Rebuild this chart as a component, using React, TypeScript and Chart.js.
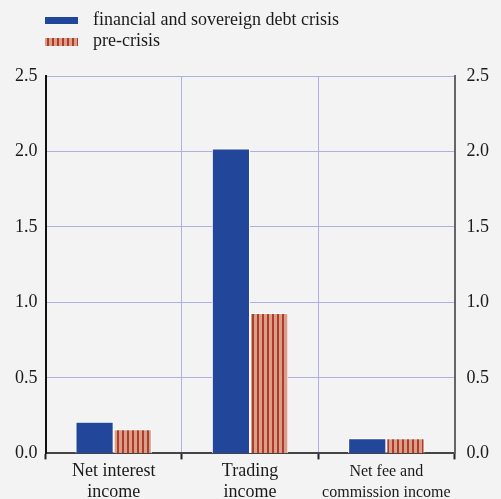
import React, { useEffect, useRef } from "react";
import { Chart, registerables } from "chart.js";
Chart.register(...registerables);

const categories: string[][] = [
  ["Net interest", "income"],
  ["Trading", "income"],
  ["Net fee and", "commission income"],
];
const crisisValues = [0.21, 2.02, 0.1];
const preCrisisValues = [0.16, 0.93, 0.1];
const seriesLabels = ["financial and sovereign debt crisis", "pre-crisis"];
const yTicks = [0, 0.5, 1.0, 1.5, 2.0, 2.5];

const BLUE = "#22479a";
const SALMON = "#d9a088";
const STRIPE = "#b23a2c";
const FONT = "'Liberation Serif', 'Times New Roman', serif";

function makePattern(): CanvasPattern | string {
  const c = document.createElement("canvas");
  c.width = 5;
  c.height = 4;
  const ctx = c.getContext("2d");
  if (!ctx) return SALMON;
  ctx.fillStyle = SALMON;
  ctx.fillRect(0, 0, 5, 4);
  ctx.fillStyle = STRIPE;
  ctx.fillRect(2, 0, 2, 4);
  return ctx.createPattern(c, "repeat") || SALMON;
}

export default function App() {
  const ref = useRef<HTMLCanvasElement>(null);
  useEffect(() => {
    if (!ref.current) return;
    const pattern = makePattern();
    const legendPlugin = {
      id: "customLegend",
      afterDraw(chart: any) {
        const ctx = chart.ctx;
        ctx.save();
        ctx.fillStyle = BLUE;
        ctx.fillRect(45, 17, 33, 7);
        ctx.fillStyle = pattern;
        ctx.fillRect(45, 38, 33, 8);
        ctx.fillStyle = "#1a1a1a";
        ctx.font = `18px ${FONT}`;
        ctx.textBaseline = "middle";
        ctx.textAlign = "left";
        ctx.fillText(seriesLabels[0], 93, 20);
        ctx.fillText(seriesLabels[1], 93, 41);
        ctx.restore();
      },
    };
    const tickFont = { family: FONT, size: 18 };
    const chart = new Chart(ref.current, {
      type: "bar",
      data: {
        labels: categories,
        datasets: [
          {
            label: seriesLabels[0],
            data: crisisValues,
            backgroundColor: BLUE,
            borderColor: "#ffffff",
            borderWidth: 1,
            categoryPercentage: 0.56,
            barPercentage: 1,
            yAxisID: "y",
          },
          {
            label: seriesLabels[1],
            data: preCrisisValues,
            backgroundColor: pattern as any,
            borderColor: "#ffffff",
            borderWidth: 1,
            categoryPercentage: 0.56,
            barPercentage: 1,
            yAxisID: "y",
          },
        ],
      },
      options: {
        animation: false,
        responsive: false,
        maintainAspectRatio: false,
        layout: { padding: { top: 76, left: 7, right: 0, bottom: 0 } },
        plugins: {
          legend: { display: false },
          tooltip: { enabled: false },
        },
        scales: {
          x: {
            offset: true,
            grid: {
              offset: true,
              color: "#aeb0e0",
              lineWidth: 1,
              drawTicks: true,
              tickLength: 6,
              tickColor: "#222222",
              tickWidth: 2,
            },
            border: { color: "#444444", width: 2 },
            ticks: {
              autoSkip: false,
              font: (c: any) => ({
                family: FONT,
                size: c.index === 2 ? 16 : 18,
                lineHeight: c.index === 2 ? 1.3 : 1.15,
              }),
              color: "#1a1a1a",
              padding: 2,
              maxRotation: 0,
              minRotation: 0,
            },
          },
          y: {
            position: "left",
            min: 0,
            max: 2.5,
            afterBuildTicks: (axis: any) => {
              axis.ticks = yTicks.map((v) => ({ value: v }));
            },
            grid: { color: "#aeb0e0", drawTicks: false },
            border: { color: "#111111", width: 2 },
            ticks: {
              font: tickFont,
              color: "#1a1a1a",
              padding: 8,
              callback: (v: any) => Number(v).toFixed(1),
            },
          },
          y2: {
            position: "right",
            min: 0,
            max: 2.5,
            afterBuildTicks: (axis: any) => {
              axis.ticks = yTicks.map((v) => ({ value: v }));
            },
            grid: { display: false, drawTicks: false },
            border: { color: "#666666", width: 2 },
            ticks: {
              font: tickFont,
              color: "#1a1a1a",
              padding: 12,
              callback: (v: any) => Number(v).toFixed(1),
            },
          },
        },
      },
      plugins: [legendPlugin],
    } as any);
    return () => chart.destroy();
  }, []);
  return (
    <div
      style={{
        position: "fixed",
        left: 0,
        top: 0,
        width: 501,
        height: 505,
        background: "#f3f3f3",
      }}
    >
      <canvas ref={ref} width={501} height={505} style={{ display: "block" }} />
    </div>
  );
}
